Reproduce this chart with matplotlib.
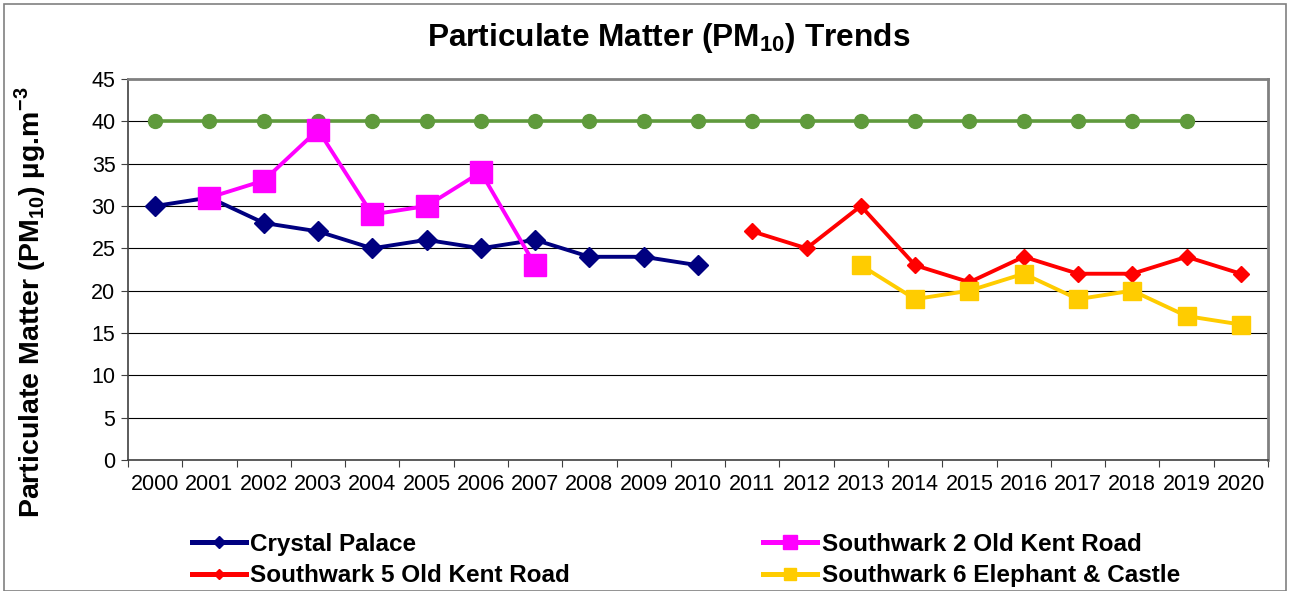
import numpy as np
import matplotlib.pyplot as plt
from matplotlib.patches import Rectangle

plt.rcParams['font.family'] = ['Liberation Sans', 'DejaVu Sans']
plt.rcParams['mathtext.fontset'] = 'custom'
plt.rcParams['mathtext.rm'] = 'Liberation Sans:bold'
plt.rcParams['mathtext.bf'] = 'Liberation Sans:bold'

years = list(range(2000, 2021))

cp_years = list(range(2000, 2011))
cp_vals = [30, 31, 28, 27, 25, 26, 25, 26, 24, 24, 23]

s2_years = list(range(2001, 2008))
s2_vals = [31, 33, 39, 29, 30, 34, 23]

s5_years = list(range(2011, 2021))
s5_vals = [27, 25, 30, 23, 21, 24, 22, 22, 24, 22]

s6_years = list(range(2013, 2021))
s6_vals = [23, 19, 20, 22, 19, 20, 17, 16]

limit_years = list(range(2000, 2020))
limit_vals = [40] * len(limit_years)

fig = plt.figure(figsize=(12.93, 5.91), dpi=100)
fig.patch.set_facecolor('white')
# outer chart border
fig.add_artist(Rectangle((4/1293, 0), 1282/1293, 1 - 4/591, transform=fig.transFigure,
                         fill=False, edgecolor='#808080', linewidth=1.2))

ax = fig.add_axes([128/1293, 1 - 460/591, 1140/1293, 381/591])

def xpos(yrs):
    return [y - 2000 for y in yrs]

ax.plot(xpos(limit_years), limit_vals, color='#5f9a3c', lw=2.6, marker='o', ms=10, zorder=3)
l_cp, = ax.plot(xpos(cp_years), cp_vals, color='#000080', lw=2.8, marker='D', ms=10, zorder=4,
                label='Crystal Palace')
l_s2, = ax.plot(xpos(s2_years), s2_vals, color='#ff00ff', lw=2.8, marker='s', ms=16, zorder=4,
                label='Southwark 2 Old Kent Road')
l_s5, = ax.plot(xpos(s5_years), s5_vals, color='#ff0000', lw=2.8, marker='D', ms=8.5, zorder=4,
                label='Southwark 5 Old Kent Road')
l_s6, = ax.plot(xpos(s6_years), s6_vals, color='#ffcc00', lw=2.8, marker='s', ms=13, zorder=4,
                label='Southwark 6 Elephant & Castle')

ax.set_xlim(-0.5, 20.5)
ax.set_ylim(0, 45)
ax.set_yticks(range(0, 46, 5))
ax.yaxis.grid(True, color='black', linewidth=0.8)
ax.set_axisbelow(True)

ax.set_xticks(np.arange(-0.5, 21, 1))
ax.set_xticklabels([])
ax.set_xticks(range(21), minor=True)
ax.set_xticklabels([str(y) for y in years], minor=True)
ax.tick_params(axis='x', which='minor', length=0, pad=10, labelsize=15.5)
ax.tick_params(axis='x', which='major', length=5, color='#404040')
ax.tick_params(axis='y', length=5, labelsize=15.5, color='#404040', pad=4)

for s in ['top', 'right']:
    ax.spines[s].set_color('#808080')
    ax.spines[s].set_linewidth(2)
for s in ['left', 'bottom']:
    ax.spines[s].set_color('#404040')
    ax.spines[s].set_linewidth(1.2)

ax.set_ylabel('Particulate Matter (PM$_{10}$) µg.m$^{-3}$', fontsize=20.5, fontweight='bold')
ax.yaxis.set_label_coords(-0.070, 0.415)
fig.text(669/1293, 1 - 38/591, 'Particulate Matter (PM$_{10}$) Trends', ha='center', va='center',
         fontsize=22.8, fontweight='bold')

leg = fig.legend(handles=[l_cp, l_s5, l_s2, l_s6], ncol=2, loc='center left',
                 bbox_to_anchor=(180/1293, 1 - 560/591), frameon=False,
                 prop={'weight': 'bold', 'size': 17.5}, handlelength=2.2, handletextpad=0.2,
                 columnspacing=7.95, labelspacing=0.35, borderpad=0, markerscale=0.65)
for h in leg.get_lines():
    h.set_linewidth(3.6)

fig.savefig('out.png', dpi=100)
